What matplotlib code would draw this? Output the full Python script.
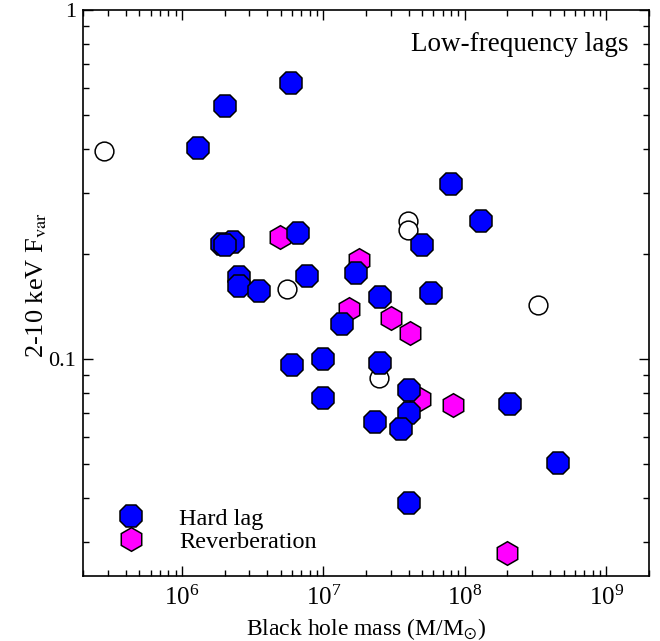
import matplotlib
matplotlib.use("Agg")
from matplotlib import pyplot as plt

plt.rcParams['font.family'] = 'serif'
plt.rcParams['font.serif'] = ['Liberation Serif', 'DejaVu Serif']
plt.rcParams['mathtext.fontset'] = 'stix'

# Hard lag sources
hard_mass = [5.9e6, 2.0e6, 1.3e6, 1.91e6, 2.31e6, 2.0e6, 6.6e6, 2.52e6, 2.52e6, 3.5e6,
             7.6e6, 1.7e7, 8.0e7, 1.3e8, 5.0e7, 2.5e7, 5.8e7, 1.35e7, 2.5e7, 4.0e7,
             2.08e8, 4.0e7, 2.31e7, 3.55e7, 1.0e7, 6.0e6, 1.0e7, 4.57e8, 4.0e7]
hard_fvar = [0.617, 0.532, 0.403, 0.214, 0.216, 0.213, 0.230, 0.172, 0.162, 0.157,
             0.173, 0.177, 0.317, 0.249, 0.212, 0.151, 0.155, 0.126, 0.0974, 0.0816,
             0.0746, 0.0703, 0.0662, 0.0629, 0.100, 0.0963, 0.0776, 0.0505, 0.0387]

# Reverberation sources
rev_mass = [4.97e6, 1.79e7, 1.51e7, 3.0e7, 4.08e7, 4.8e7, 8.3e7, 2.0e8]
rev_fvar = [0.224, 0.192, 0.139, 0.131, 0.119, 0.0767, 0.0738, 0.0279]

# no low-frequency lag detected
none_mass = [2.8e5, 5.5e6, 3.95e7, 3.95e7, 3.27e8, 2.47e7]
none_fvar = [0.396, 0.159, 0.249, 0.235, 0.143, 0.0882]

fig = plt.figure(figsize=(6.6, 6.41), dpi=100)
ax = fig.add_axes([0.126, 0.1014, 0.857, 0.8826])

ax.plot(none_mass, none_fvar, linestyle='none', marker='o', ms=13.5,
        mfc='white', mec='black', mew=1.1, zorder=2)
ax.plot(rev_mass, rev_fvar, linestyle='none', marker='h', ms=17,
        mfc='#ff00ff', mec='black', mew=1.1, zorder=3, label='Reverberation')
ax.plot(hard_mass, hard_fvar, linestyle='none', marker='8', ms=17,
        mfc='#0000ff', mec='black', mew=1.1, zorder=4, label='Hard lag')

ax.set_xscale('log')
ax.set_yscale('log')
ax.set_xlim(2e5, 2e9)
ax.set_ylim(0.0239, 1.0)
ax.set_yticks([0.1, 1])
ax.set_yticklabels(['0.1', '1'])

ax.tick_params(which='both', direction='in', top=True, right=True)
ax.tick_params(axis='x', labelsize=18, pad=7)
ax.tick_params(axis='y', labelsize=16, pad=5)
ax.tick_params(which='major', length=7, width=1)
ax.tick_params(which='minor', length=4, width=1)
for s in ax.spines.values():
    s.set_linewidth(1.2)

ax.set_xlabel(r'Black hole mass (M/M$_{\odot}$)', fontsize=17, labelpad=4)
ax.set_ylabel(r'2-10 keV F$_{\rm var}$', fontsize=19)
ax.yaxis.set_label_coords(-0.06, 0.515)

ax.text(0.965, 0.94, 'Low-frequency lags', transform=ax.transAxes,
        ha='right', va='center', fontsize=19.5)

h, l = ax.get_legend_handles_labels()
ax.legend(h[::-1], l[::-1], loc='lower left', frameon=False, fontsize=17.5,
          handletextpad=1.0, labelspacing=0.05, borderaxespad=0.55)

fig.savefig('out.png', dpi=100)
